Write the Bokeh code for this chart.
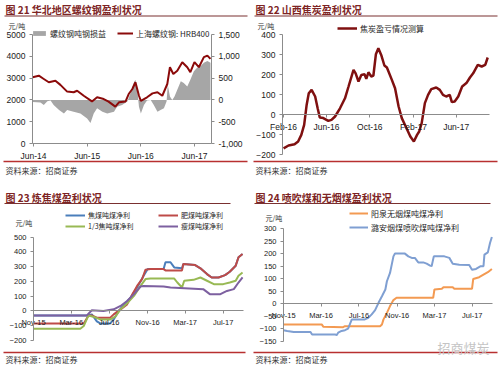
import pandas as pd
from bokeh.plotting import figure
from bokeh.models import (Range1d, LinearAxis, DatetimeAxis, FixedTicker,
                          DatetimeTickFormatter, NumeralTickFormatter, Label,
                          BoxAnnotation, Legend, LegendItem)
from bokeh.layouts import column, row
from bokeh.embed import file_html
from bokeh.resources import INLINE

# ---------------- data ----------------
# Fig 21: rebar price (left axis) and rebar profit per ton (right axis)
rebar_price_dates = ["2014-05-26", "2014-07-07", "2014-08-10", "2014-09-13", "2014-10-28", "2014-12-01",
                     "2015-01-16", "2015-03-01", "2015-03-25", "2015-05-09", "2015-07-04", "2015-08-08",
                     "2015-09-22", "2015-10-25", "2015-12-10", "2016-01-04", "2016-02-18", "2016-03-10",
                     "2016-04-04", "2016-04-25", "2016-05-19", "2016-06-01", "2016-07-13", "2016-08-19",
                     "2016-09-22", "2016-10-25", "2016-11-28", "2016-12-16", "2017-01-08", "2017-02-04",
                     "2017-03-10", "2017-04-13", "2017-05-04", "2017-06-01", "2017-07-01", "2017-08-04",
                     "2017-08-28", "2017-09-18"]
rebar_price = [3040, 3110, 2960, 2810, 2880, 2690, 2380, 2350, 2420, 2190, 1930, 2120, 2040, 1920,
               1690, 1890, 1930, 2270, 2500, 2810, 2190, 1960, 2120, 2300, 2350, 2190, 2730, 3500,
               3190, 3340, 3730, 3500, 3270, 3730, 3500, 3960, 4030, 3880]
rebar_profit_dates = ["2014-05-26", "2014-07-18", "2014-08-10", "2014-09-03", "2014-09-25", "2014-10-16",
                      "2014-11-22", "2014-12-25", "2015-01-16", "2015-03-01", "2015-04-16", "2015-06-01",
                      "2015-06-24", "2015-07-16", "2015-08-08", "2015-09-13", "2015-10-16", "2015-12-01",
                      "2015-12-22", "2016-01-25", "2016-03-01", "2016-03-22", "2016-04-13", "2016-04-25",
                      "2016-05-10", "2016-05-19", "2016-06-01", "2016-06-22", "2016-07-13", "2016-08-07",
                      "2016-08-28", "2016-09-22", "2016-10-13", "2016-11-05", "2016-11-23", "2016-12-01",
                      "2016-12-16", "2017-01-01", "2017-01-16", "2017-02-04", "2017-02-28", "2017-03-20",
                      "2017-04-13", "2017-05-04", "2017-05-28", "2017-06-19", "2017-07-13", "2017-08-04",
                      "2017-08-28", "2017-09-18"]
rebar_profit = [-50, -60, -116, -30, -15, -116, -233, -310, -233, -271, -310, -426, -527, -310, -194,
                -271, -310, -271, -155, -116, -35, 155, 388, 465, 155, -155, -310, -116, -15, 0, -116,
                -271, -233, -194, -35, 349, 77, 0, 77, 233, 426, 388, 310, 465, 659, 736, 775, 853,
                892, 853]
p1_x_ticks = ["2014-06-01", "2015-06-01", "2016-06-01", "2017-06-01"]
p1_left_ticks = [0, 1000, 2000, 3000, 4000, 5000]
p1_right_ticks = [-1000, -500, 0, 500, 1000, 1500]

# Fig 22: Shanxi coke profit
coke_dates = ["2016-02-01", "2016-02-15", "2016-03-03", "2016-03-13", "2016-03-22", "2016-03-30",
              "2016-04-06", "2016-04-12", "2016-04-20", "2016-04-30", "2016-05-07", "2016-05-13",
              "2016-05-23", "2016-06-06", "2016-06-15", "2016-06-25", "2016-07-09", "2016-07-23",
              "2016-08-02", "2016-08-16", "2016-08-22", "2016-08-30", "2016-09-07", "2016-09-16",
              "2016-09-21", "2016-09-27", "2016-10-05", "2016-10-11", "2016-10-18", "2016-10-25",
              "2016-11-02", "2016-11-11", "2016-11-18", "2016-12-02", "2016-12-11", "2016-12-21",
              "2016-12-30", "2017-01-10", "2017-01-23", "2017-02-02", "2017-02-11", "2017-02-17",
              "2017-02-24", "2017-03-05", "2017-03-14", "2017-03-23", "2017-04-06", "2017-04-16",
              "2017-04-25", "2017-05-04", "2017-05-14", "2017-05-20", "2017-05-28", "2017-06-07",
              "2017-06-18", "2017-06-30", "2017-07-10", "2017-07-19", "2017-08-01", "2017-08-12",
              "2017-08-22", "2017-08-29"]
coke_profit = [-169, -155, -149, -135, -102, -52, 48, 106, 123, 90, 31, -15, -18, -32, -27, -10, 31, 81,
               140, 223, 206, 165, 198, 201, 178, 211, 190, 195, 301, 331, 298, 245, 235, 173, 131, 40,
               -18, -60, -110, -135, -102, -85, -43, 57, 98, 127, 135, 123, 98, 90, 98, 62, 65, 90,
               140, 157, 185, 206, 248, 240, 248, 285]
p2_x_ticks = ["2016-02-01", "2016-06-01", "2016-10-01", "2017-02-01", "2017-06-01"]
p2_y_ticks = [-200, -100, 0, 100, 200, 300, 400]

# Fig 23: coking coal net profit per ton
coking_dates = ["2015-11-01", "2016-04-20", "2016-05-06", "2016-05-22", "2016-06-02", "2016-07-04",
                "2016-07-15", "2016-07-31", "2016-08-16", "2016-09-07", "2016-09-28", "2016-10-19",
                "2016-11-01", "2016-12-22", "2016-12-28", "2017-01-13", "2017-01-25", "2017-02-19",
                "2017-02-23", "2017-04-02", "2017-04-19", "2017-05-10", "2017-05-25", "2017-06-16",
                "2017-07-07", "2017-07-22", "2017-08-10", "2017-08-19", "2017-09-01"]
coking_profit = [-30, -30, -23, -70, -84, -84, -57, 0, 39, 91, 159, 239, 284, 284, 330, 330, 295, 289,
                 318, 311, 289, 250, 227, 227, 243, 266, 307, 364, 386]
fat_dates = ["2015-11-01", "2016-04-10", "2016-04-25", "2016-05-06", "2016-05-22", "2016-07-04",
             "2016-07-15", "2016-08-06", "2016-08-27", "2016-09-13", "2016-09-28", "2016-10-14",
             "2016-10-25", "2016-11-10", "2016-12-22", "2016-12-28", "2017-02-19", "2017-02-23",
             "2017-04-02", "2017-04-19", "2017-05-10", "2017-05-25", "2017-06-16", "2017-07-07",
             "2017-07-22", "2017-08-10", "2017-08-19", "2017-09-01"]
fat_profit = [-85, -85, -32, -30, -45, -45, -23, 11, 45, 114, 170, 216, 280, 284, 284, 275, 275, 318,
              311, 289, 250, 227, 227, 243, 266, 307, 364, 386]
third_dates = ["2015-11-01", "2016-03-30", "2016-04-10", "2016-04-25", "2016-05-11", "2016-06-02",
               "2016-07-04", "2016-07-20", "2016-08-06", "2016-08-27", "2016-09-18", "2016-10-09",
               "2016-10-25", "2016-11-10", "2017-01-25", "2017-02-04", "2017-02-19", "2017-02-26",
               "2017-03-28", "2017-04-19", "2017-05-10", "2017-06-01", "2017-07-01", "2017-07-22",
               "2017-08-10", "2017-08-19", "2017-09-01"]
third_profit = [-120, -120, -102, -30, -39, -57, -57, -39, 11, 52, 102, 170, 216, 220, 220, 193, 159,
                205, 211, 227, 205, 182, 182, 193, 205, 239, 261]
lean_dates = ["2015-11-01", "2016-04-20", "2016-05-06", "2016-06-12", "2016-07-15", "2016-08-06",
              "2016-08-27", "2016-09-18", "2016-10-09", "2016-10-19", "2016-12-22", "2017-01-13",
              "2017-04-28", "2017-05-19", "2017-06-22", "2017-07-13", "2017-08-04", "2017-08-19",
              "2017-09-01"]
lean_profit = [-30, -30, 5, 0, 11, 34, 68, 114, 166, 170, 166, 159, 148, 114, 114, 136, 148, 193, 227]
p3_x_ticks = ["2015-11-01", "2016-03-01", "2016-07-01", "2016-11-01", "2017-03-01", "2017-07-01"]
p3_y_ticks = [-200, -100, 0, 100, 200, 300, 400, 500]

# Fig 24: PCI coal and anthracite net profit per ton
anth_dates = ["2015-11-01", "2016-03-03", "2016-03-08", "2016-05-11", "2016-05-17", "2016-09-07",
              "2016-09-13", "2016-09-18", "2016-09-29", "2016-10-09", "2016-10-20", "2016-10-30",
              "2017-02-25", "2017-03-01", "2017-03-25", "2017-03-30", "2017-04-29", "2017-05-04",
              "2017-06-30", "2017-07-04", "2017-07-23", "2017-08-06", "2017-08-20", "2017-09-02"]
anth_profit = [-82, -82, -91, -93, -89, -89, -82, -62, -36, -9, 15, 24, 24, 57, 60, 66, 66, 60, 60, 99,
               106, 116, 126, 139]
pci_dates = ["2015-11-01", "2015-11-13", "2015-12-04", "2016-01-27", "2016-02-01", "2016-04-15",
             "2016-04-20", "2016-04-25", "2016-05-06", "2016-05-17", "2016-05-27", "2016-06-08",
             "2016-07-20", "2016-07-31", "2016-08-11", "2016-08-22", "2016-09-02", "2016-09-13",
             "2016-09-24", "2016-09-29", "2016-10-09", "2016-10-20", "2016-10-25", "2016-11-26",
             "2016-12-07", "2016-12-18", "2016-12-28", "2017-01-08", "2017-01-24", "2017-02-04",
             "2017-02-15", "2017-02-20", "2017-02-27", "2017-04-02", "2017-04-18", "2017-04-29",
             "2017-05-20", "2017-06-21", "2017-06-30", "2017-07-13", "2017-07-28", "2017-08-06",
             "2017-08-09", "2017-08-20", "2017-08-27", "2017-09-02"]
pci_profit = [-105, -108, -112, -112, -122, -122, -125, -115, -108, -105, -99, -62, -62, -56, -42, -25,
              4, 30, 57, 90, 123, 189, 200, 200, 189, 183, 183, 165, 165, 160, 152, 150, 189, 189,
              183, 160, 156, 155, 136, 139, 150, 150, 196, 205, 242, 266]
p4_y_ticks = [-150, -100, -50, 0, 50, 100, 150, 200, 250, 300]

# ---------------- styling helpers ----------------
CJK = "Noto Sans CJK SC"
LAT = "Liberation Sans"
AXC = "#8c8c8c"
TITLE_C = "#7d2424"
SRC_C = "#333333"


def ms(d):
    return pd.Timestamp(d).value / 1e6


def dt(lst):
    return pd.to_datetime(lst)


def span(v0, p0, v1, p1, total):
    """values at pixel 0 and at pixel `total`, given v0 sits at p0 and v1 at p1"""
    s = (v1 - v0) / (p1 - p0)
    return v0 - p0 * s, v0 + (total - p0) * s


def make_fig(w, h, xa, ya):
    # xa: (value, px, value, px) from left ; ya: (value, px, value, px) from top
    x_at0, x_atw = span(*xa, w)
    y_at0, y_ath = span(*ya, h)
    p = figure(width=w, height=h, x_range=Range1d(x_at0, x_atw), y_range=Range1d(y_ath, y_at0),
               x_axis_type=None, y_axis_type=None, output_backend="svg",
               toolbar_location=None, title=None, min_border=0)
    p.outline_line_color = None
    p.background_fill_color = "white"
    p.border_fill_color = "white"
    return p


def style_axis(ax, size):
    ax.axis_line_color = AXC
    ax.major_tick_line_color = AXC
    ax.major_tick_out = 3
    ax.major_tick_in = 0
    ax.minor_tick_line_color = None
    ax.major_label_text_font = LAT
    ax.major_label_text_font_size = size
    ax.major_label_text_color = "#1a1a1a"
    ax.major_label_standoff = 4


def date_axis(ticks, size, fixed, bounds):
    fmt = DatetimeTickFormatter(days="%b-%y", months="%b-%y", years="%b-%y")
    ax = DatetimeAxis(ticker=FixedTicker(ticks=[ms(t) for t in ticks]), formatter=fmt,
                      fixed_location=fixed, bounds=bounds)
    style_axis(ax, size)
    return ax


def num_axis(ticks, size, fixed, **kw):
    ax = LinearAxis(ticker=FixedTicker(ticks=ticks), fixed_location=fixed,
                    bounds=(min(ticks), max(ticks)), **kw)
    style_axis(ax, size)
    return ax


def text(p, x, y, s, size, color=SRC_C, font=CJK, style="normal", align="left"):
    p.add_layout(Label(x=x, y=y, x_units="canvas", y_units="canvas", text=s,
                       text_font=font, text_font_size=size, text_color=color,
                       text_font_style=style, text_align=align, text_baseline="middle"))


def hline(p, x0, x1, y, color, w):
    p.add_layout(BoxAnnotation(left=x0, right=x1, top=y - w / 2, bottom=y + w / 2,
                               left_units="canvas", right_units="canvas",
                               top_units="canvas", bottom_units="canvas",
                               fill_color=color, fill_alpha=1, line_color=None))


def decorate(p, title, title_y, uline_x1, uline_y, sep_y, src_y, sep_x1=247):
    text(p, 5, title_y, title, "10px", color=TITLE_C, style="bold")
    hline(p, 4, uline_x1, uline_y, "#7a3030", 1.2)
    hline(p, 3, sep_x1, sep_y, "#b83030", 1.5)
    text(p, 5, src_y, "资料来源：招商证券", "8px")


def make_legend(items, loc, glyph_w, font_size, **kw):
    return Legend(items=items, location=loc, glyph_width=glyph_w, glyph_height=6,
                  label_text_font=CJK, label_text_font_size=font_size, label_text_color="#262626",
                  label_height=10, label_standoff=3, padding=0, margin=0,
                  border_line_color=None, background_fill_alpha=0, **kw)


# ---------------- Fig 21 ----------------
x1s, x1e = "2014-05-25", "2017-09-25"
p1 = make_fig(250, 183, (ms(x1s), 32, ms(x1e), 211), (5000, 34, 0, 143))
r_top, r_bot = span(1500, 34, -1000, 143, 183)
p1.extra_y_ranges = {"profit": Range1d(r_bot, r_top)}
a1 = p1.varea(x=dt(rebar_profit_dates), y1=0, y2=rebar_profit, y_range_name="profit",
              fill_color="#a6a6a6")
l1 = p1.line(dt(rebar_price_dates), rebar_price, line_color="#8b0a0a", line_width=2)
p1.add_layout(date_axis(p1_x_ticks, "8.5px", 0, (ms(x1s), ms(x1e))), "below")
p1.add_layout(num_axis(p1_left_ticks, "8.5px", ms(x1s)), "left")
p1.add_layout(num_axis(p1_right_ticks, "8.5px", ms(x1e), y_range_name="profit",
                       formatter=NumeralTickFormatter(format="0,0")), "right")
p1.add_layout(make_legend([LegendItem(label="螺纹钢吨钢损益", renderers=[a1]),
                           LegendItem(label="上海螺纹钢: HRB400", renderers=[l1])],
                          (31, 144.5), 16, "8px", orientation="horizontal", spacing=11))
decorate(p1, "图 21 华北地区螺纹钢盈利状况", 8.5, 247, 15.5, 161, 170)
text(p1, 8, 25, "元/吨", "7px")

# ---------------- Fig 22 ----------------
x2s, x2e = "2016-01-29", "2017-09-03"
p2 = make_fig(250, 183, (ms(x2s), 32, ms(x2e), 239), (400, 34, -200, 154))
l2 = p2.line(dt(coke_dates), coke_profit, line_color="#7f1010", line_width=2.5)
p2.add_layout(date_axis(p2_x_ticks, "8.5px", 0, (ms(x2s), ms(x2e))), "below")
p2.add_layout(num_axis(p2_y_ticks, "8.5px", ms(x2s)), "left")
p2.add_layout(make_legend([LegendItem(label="焦炭盈亏情况测算", renderers=[l2])],
                          (87, 149.3), 20, "8px"))
decorate(p2, "图 22 山西焦炭盈利状况", 8.5, 247, 15.5, 161, 170)
text(p2, 7, 25, "元/吨", "7px")

# ---------------- Fig 23 ----------------
x3s, x3e = "2015-11-01", "2017-09-04"
p3 = make_fig(250, 184, (ms(x3s), 33, ms(x3e), 243), (500, 53.7, -200, 157))
b3 = p3.line(dt(coking_dates), coking_profit, line_color="#4a7ebb", line_width=2)
r3 = p3.line(dt(fat_dates), fat_profit, line_color="#be4b48", line_width=2)
g3 = p3.line(dt(third_dates), third_profit, line_color="#98b954", line_width=2)
v3 = p3.line(dt(lean_dates), lean_profit, line_color="#7d60a0", line_width=2)
p3.add_layout(date_axis(p3_x_ticks, "7.5px", 0, (ms(x3s), ms(x3e))), "below")
p3.add_layout(num_axis(p3_y_ticks, "7.5px", ms(x3s)), "left")
p3.add_layout(make_legend([LegendItem(label="焦煤吨煤净利", renderers=[b3]),
                           LegendItem(label="肥煤吨煤净利", renderers=[r3]),
                           LegendItem(label="1/3焦吨煤净利", renderers=[g3]),
                           LegendItem(label="瘦煤吨煤净利", renderers=[v3])],
                          (65, 135.8), 20, "7px", orientation="horizontal", ncols=2,
                          label_width=69, spacing=1))
decorate(p3, "图 23 炼焦煤盈利状况", 14, 230, 20, 169, 176, sep_x1=245)
text(p3, 15, 39, "元/吨", "7px")

# ---------------- Fig 24 ----------------
p4 = make_fig(250, 184, (ms(x3s), 33, ms(x3e), 242), (300, 45, -150, 158))
o4 = p4.line(dt(anth_dates), anth_profit, line_color="#f39a52", line_width=2)
c4 = p4.line(dt(pci_dates), pci_profit, line_color="#7f9fd2", line_width=2)
p4.add_layout(date_axis(p3_x_ticks, "7.5px", 0, (ms(x3s), ms(x3e))), "below")
p4.add_layout(num_axis(p4_y_ticks, "7.5px", ms(x3s)), "left")
p4.add_layout(make_legend([LegendItem(label="阳泉无烟煤吨煤净利", renderers=[o4]),
                           LegendItem(label="潞安烟煤喷吹煤吨煤净利", renderers=[c4])],
                          (99, 134.3), 19, "8px", spacing=3))
decorate(p4, "图 24 喷吹煤和无烟煤盈利状况", 14, 240, 20, 169, 176)
text(p4, 15, 34.5, "元/吨", "7px")
text(p4, 187, 164, "招商煤炭", "13px", color="#c4c4c4")

layout = column(row(p1, p2), row(p3, p4))

open("out.html", "w").write(file_html(layout, INLINE))
